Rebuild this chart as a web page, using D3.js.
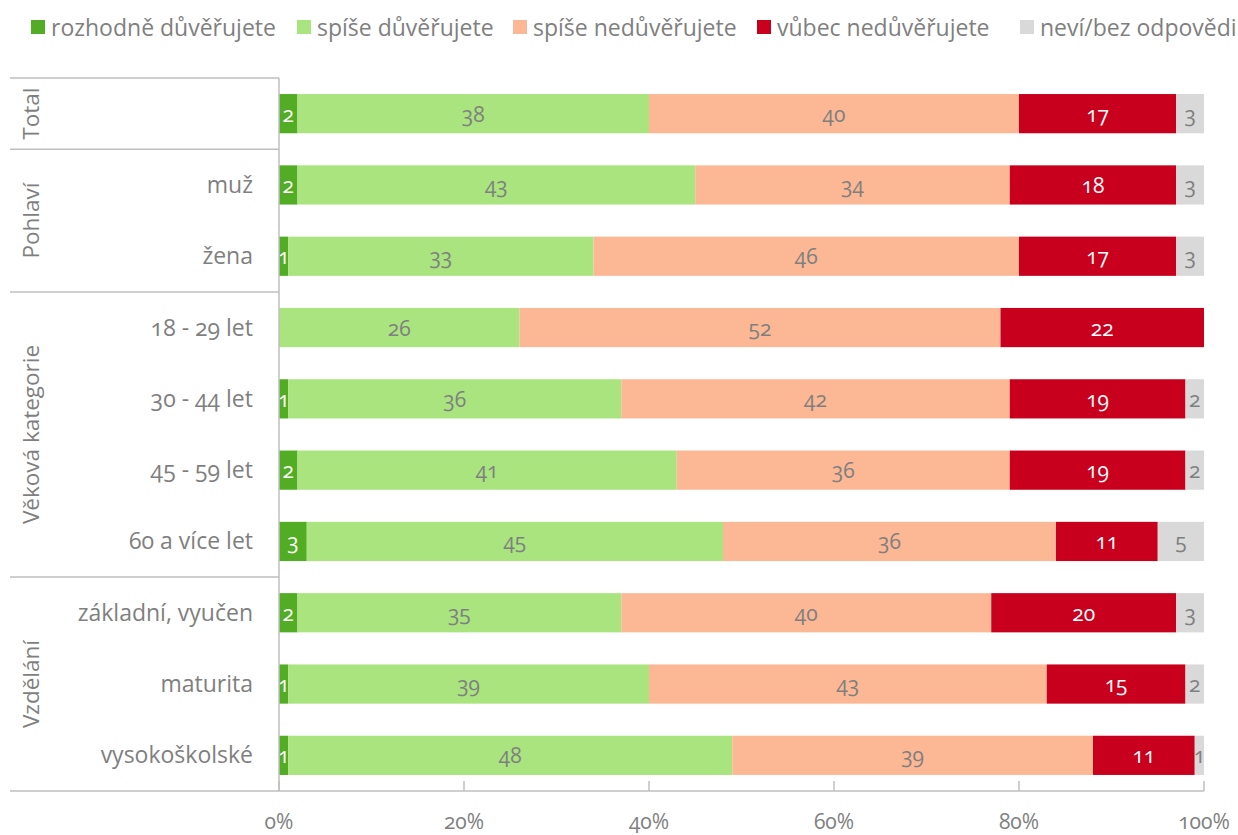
<!DOCTYPE html>
<html>
<head>
<meta charset="utf-8">
<script src="https://cdn.jsdelivr.net/npm/d3@7"></script>
<style>
  body { margin: 0; background: #fff; }
  svg text { font-family: "Open Sans", sans-serif; font-variant-numeric: oldstyle-nums; }
</style>
</head>
<body>
<svg id="chart" width="1238" height="835"></svg>
<script>
const series = ["rozhodně důvěřujete", "spíše důvěřujete", "spíše nedůvěřujete", "vůbec nedůvěřujete", "neví/bez odpovědi"];
const colors = ["#52ad25", "#a9e47f", "#fcb895", "#c8001d", "#d9d9d9"];
const labelColors = ["#fff", "#7f7f7f", "#7f7f7f", "#fff", "#7f7f7f"];

const categories = ["", "muž", "žena", "18 - 29 let", "30 - 44 let", "45 - 59 let", "60 a více let", "základní, vyučen", "maturita", "vysokoškolské"];
const groups = [
  { name: "Total", size: 1 },
  { name: "Pohlaví", size: 2 },
  { name: "Věková kategorie", size: 4 },
  { name: "Vzdělání", size: 3 }
];
const values = [
  [2, 38, 40, 17, 3],
  [2, 43, 34, 18, 3],
  [1, 33, 46, 17, 3],
  [0, 26, 52, 22, 0],
  [1, 36, 42, 19, 2],
  [2, 41, 36, 19, 2],
  [3, 45, 36, 11, 5],
  [2, 35, 40, 20, 3],
  [1, 39, 43, 15, 2],
  [1, 48, 39, 11, 1]
];
const ticks = [0, 20, 40, 60, 80, 100];

const svg = d3.select("#chart");
const mLeft = 279, mRight = 1204, mTop = 78, mBottom = 791;

const x = d3.scaleLinear().domain([0, 100]).range([mLeft, mRight]);
const y = d3.scaleBand().domain(d3.range(categories.length)).range([mTop, mBottom]).paddingInner(0.45).paddingOuter(0.225);
const step = y.step();

// stacked bars
const rows = values.map((v, i) => {
  let acc = 0;
  return v.map((val, k) => { const s = acc; acc += val; return { row: i, k, x0: s, x1: acc, val }; });
});

const g = svg.append("g");
rows.forEach(r => {
  g.selectAll(null).data(r.filter(d => d.val > 0)).join("rect")
    .attr("x", d => x(d.x0))
    .attr("y", d => y(d.row))
    .attr("width", d => x(d.x1) - x(d.x0))
    .attr("height", y.bandwidth())
    .attr("fill", d => colors[d.k]);
  g.selectAll(null).data(r.filter(d => d.val > 0)).join("text")
    .attr("x", d => (x(d.x0) + x(d.x1)) / 2)
    .attr("y", d => y(d.row) + y.bandwidth() / 2 + 8)
    .attr("text-anchor", "middle")
    .attr("font-size", 21)
    .attr("fill", d => labelColors[d.k])
    .text(d => d.val);
});

// x axis
const axisG = svg.append("g").attr("transform", `translate(0,${mBottom})`);
axisG.append("line").attr("x1", mLeft).attr("x2", mRight).attr("stroke", "#bfbfbf").attr("stroke-width", 1.5);
axisG.selectAll(".tick").data(ticks).join("line")
  .attr("x1", d => x(d)).attr("x2", d => x(d)).attr("y1", 0).attr("y2", -10)
  .attr("stroke", "#bfbfbf").attr("stroke-width", 1.5);
axisG.selectAll(".lbl").data(ticks).join("text")
  .attr("x", d => x(d)).attr("y", 38)
  .attr("text-anchor", "middle").attr("font-size", 21).attr("fill", "#7f7f7f")
  .text(d => d + "%");

// left axis with groups
svg.append("line").attr("x1", mLeft).attr("x2", mLeft).attr("y1", mTop).attr("y2", mBottom)
  .attr("stroke", "#bfbfbf").attr("stroke-width", 1.5);

let start = 0;
const bounds = [0];
groups.forEach(gr => { start += gr.size; bounds.push(start); });
svg.selectAll(".sep").data(bounds).join("line")
  .attr("x1", 10).attr("x2", mLeft)
  .attr("y1", d => mTop + d * step).attr("y2", d => mTop + d * step)
  .attr("stroke", "#bfbfbf").attr("stroke-width", 1.5);

groups.forEach((gr, i) => {
  const cy = mTop + (bounds[i] + bounds[i + 1]) / 2 * step;
  svg.append("text")
    .attr("transform", `translate(39,${cy}) rotate(-90)`)
    .attr("text-anchor", "middle")
    .attr("font-size", 22.5).attr("fill", "#7f7f7f")
    .text(gr.name);
});

svg.selectAll(".cat").data(categories).join("text")
  .attr("x", 253)
  .attr("y", (d, i) => y(i) + y.bandwidth() / 2 + 8)
  .attr("text-anchor", "end")
  .attr("font-size", 23).attr("fill", "#7f7f7f")
  .text(d => d);

// legend
const legendX = [31, 297, 513, 757, 1020];
const leg = svg.append("g");
series.forEach((s, i) => {
  leg.append("rect").attr("x", legendX[i]).attr("y", 20).attr("width", 14).attr("height", 14).attr("fill", colors[i]);
  leg.append("text").attr("x", legendX[i] + 20).attr("y", 36)
    .attr("font-size", 23).attr("fill", "#7f7f7f").text(s);
});
</script>
</body>
</html>
